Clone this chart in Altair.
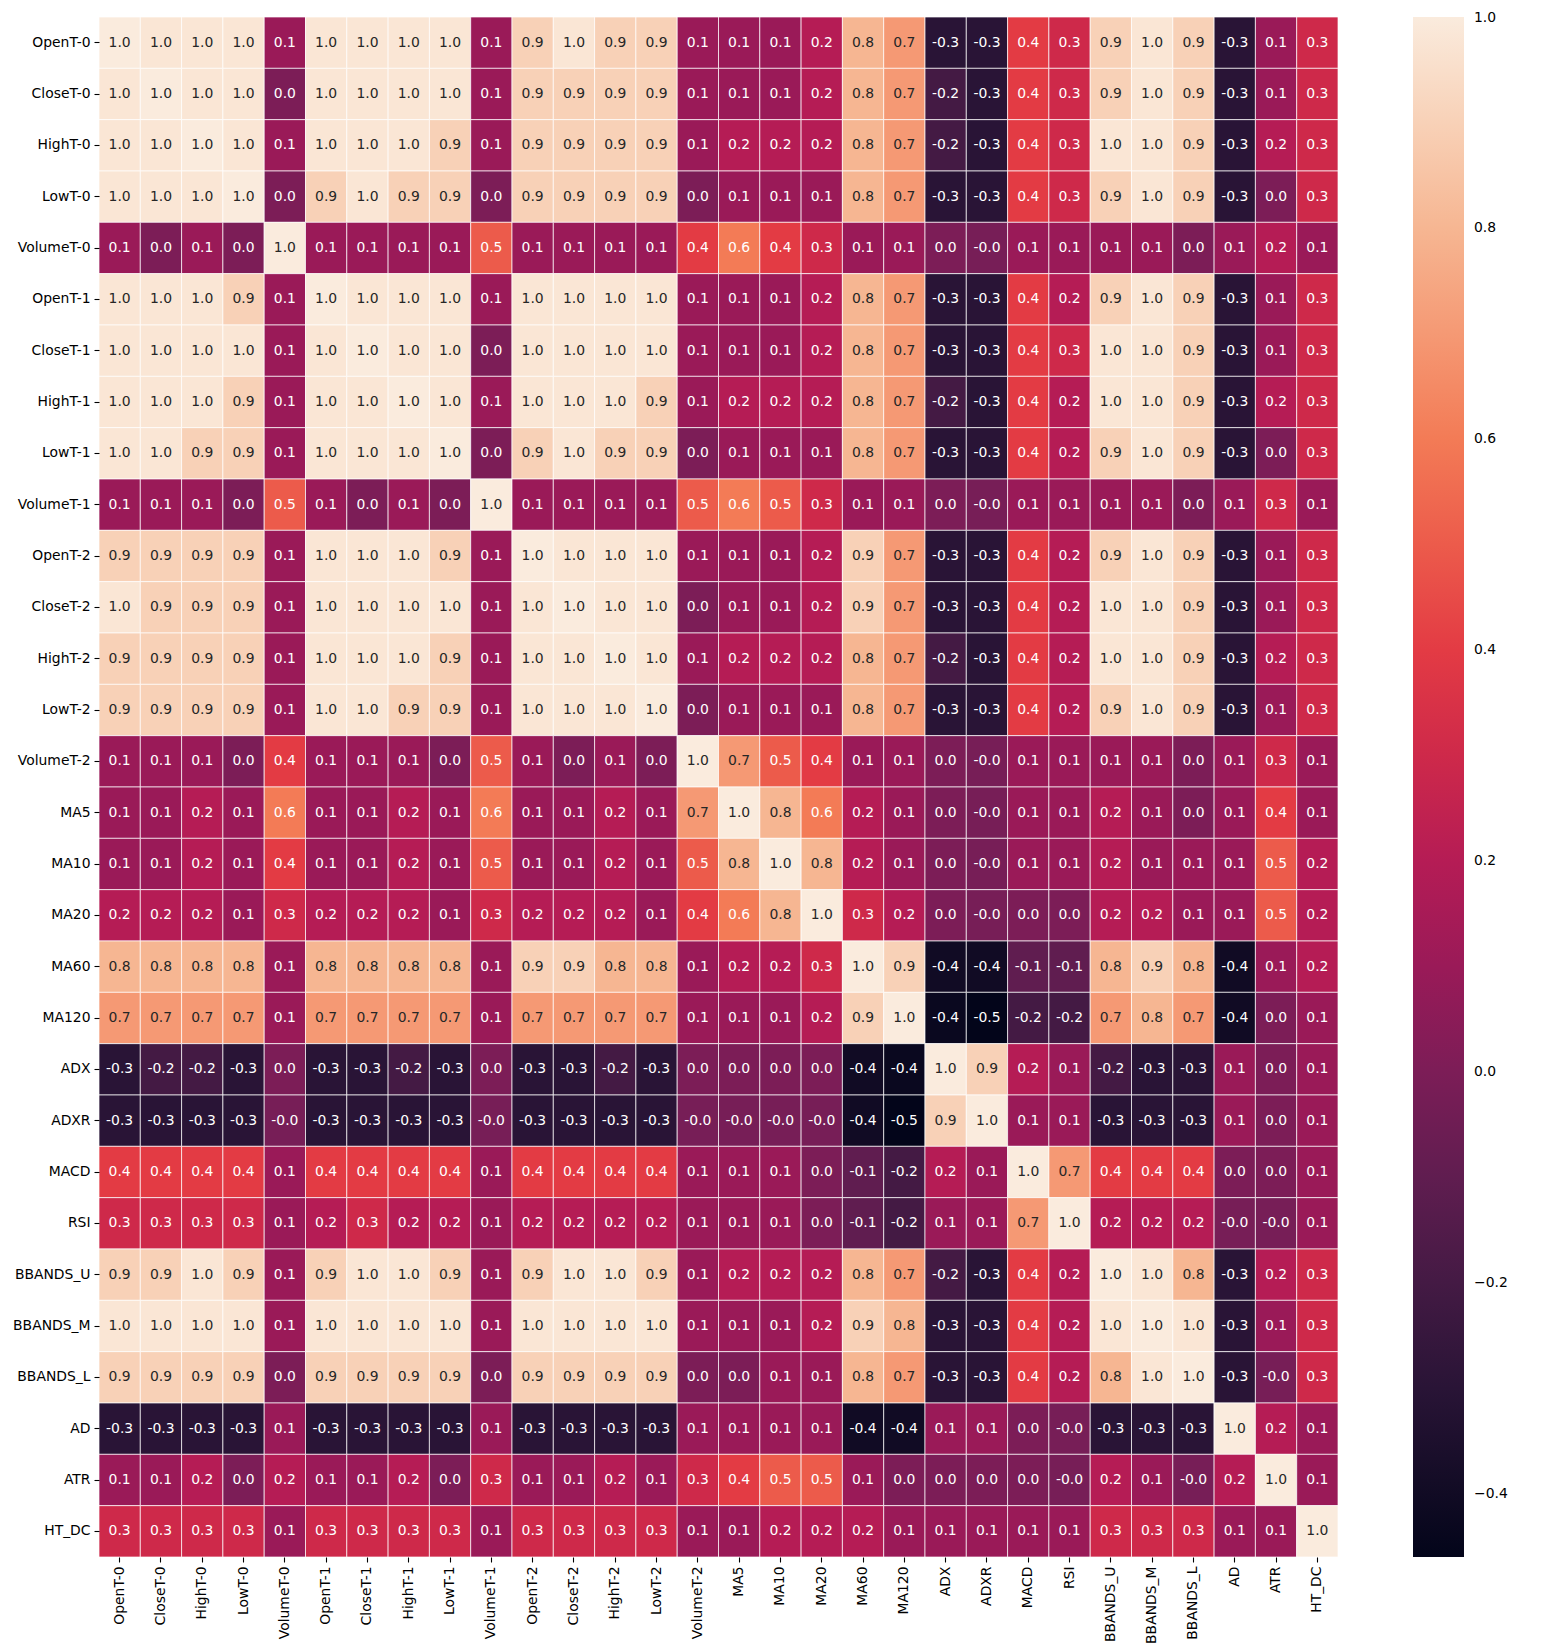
import altair as alt
import pandas as pd

names = ["OpenT-0", "CloseT-0", "HighT-0", "LowT-0", "VolumeT-0",
         "OpenT-1", "CloseT-1", "HighT-1", "LowT-1", "VolumeT-1",
         "OpenT-2", "CloseT-2", "HighT-2", "LowT-2", "VolumeT-2",
         "MA5", "MA10", "MA20", "MA60", "MA120", "ADX", "ADXR", "MACD", "RSI",
         "BBANDS_U", "BBANDS_M", "BBANDS_L", "AD", "ATR", "HT_DC"]

r_open0 = [1.0, .98, .98, .98, .1, .98, .98, .98, .98, .1, .9, .98, .9, .9, .1, .1, .1, .2, .8, .7, -.3, -.3, .4, .3, .9, .98, .9, -.3, .1, .3]
r_close0 = [.98, 1.0, .98, .98, 0.0, .98, .98, .98, .98, .1, .9, .9, .9, .9, .1, .1, .1, .2, .8, .7, -.2, -.3, .4, .3, .9, .98, .9, -.3, .1, .3]
r_high0 = [.98, .98, 1.0, .98, .1, .98, .98, .98, .9, .1, .9, .9, .9, .9, .1, .2, .2, .2, .8, .7, -.2, -.3, .4, .3, .98, .98, .9, -.3, .2, .3]
r_low0 = [.98, .98, .98, 1.0, 0.0, .9, .98, .9, .9, 0.0, .9, .9, .9, .9, 0.0, .1, .1, .1, .8, .7, -.3, -.3, .4, .3, .9, .98, .9, -.3, 0.0, .3]
r_vol0 = [.1, 0.0, .1, 0.0, 1.0, .1, .1, .1, .1, .5, .1, .1, .1, .1, .4, .6, .4, .3, .1, .1, 0.0, -.02, .1, .1, .1, .1, 0.0, .1, .2, .1]
r_open1 = [.98, .98, .98, .9, .1, 1.0, .98, .98, .98, .1, .98, .98, .98, .98, .1, .1, .1, .2, .8, .7, -.3, -.3, .4, .2, .9, .98, .9, -.3, .1, .3]
r_close1 = [.98, .98, .98, .98, .1, .98, 1.0, .98, .98, 0.0, .98, .98, .98, .98, .1, .1, .1, .2, .8, .7, -.3, -.3, .4, .3, .98, .98, .9, -.3, .1, .3]
r_high1 = [.98, .98, .98, .9, .1, .98, .98, 1.0, .98, .1, .98, .98, .98, .9, .1, .2, .2, .2, .8, .7, -.2, -.3, .4, .2, .98, .98, .9, -.3, .2, .3]
r_low1 = [.98, .98, .9, .9, .1, .98, .98, .98, 1.0, 0.0, .9, .98, .9, .9, 0.0, .1, .1, .1, .8, .7, -.3, -.3, .4, .2, .9, .98, .9, -.3, 0.0, .3]
r_vol1 = [.1, .1, .1, 0.0, .5, .1, 0.0, .1, 0.0, 1.0, .1, .1, .1, .1, .5, .6, .5, .3, .1, .1, 0.0, -.02, .1, .1, .1, .1, 0.0, .1, .3, .1]
r_open2 = [.9, .9, .9, .9, .1, .98, .98, .98, .9, .1, 1.0, .98, .98, .98, .1, .1, .1, .2, .9, .7, -.3, -.3, .4, .2, .9, .98, .9, -.3, .1, .3]
r_close2 = [.98, .9, .9, .9, .1, .98, .98, .98, .98, .1, .98, 1.0, .98, .98, 0.0, .1, .1, .2, .9, .7, -.3, -.3, .4, .2, .98, .98, .9, -.3, .1, .3]
r_high2 = [.9, .9, .9, .9, .1, .98, .98, .98, .9, .1, .98, .98, 1.0, .98, .1, .2, .2, .2, .8, .7, -.2, -.3, .4, .2, .98, .98, .9, -.3, .2, .3]
r_low2 = [.9, .9, .9, .9, .1, .98, .98, .9, .9, .1, .98, .98, .98, 1.0, 0.0, .1, .1, .1, .8, .7, -.3, -.3, .4, .2, .9, .98, .9, -.3, .1, .3]
r_vol2 = [.1, .1, .1, 0.0, .4, .1, .1, .1, 0.0, .5, .1, 0.0, .1, 0.0, 1.0, .7, .5, .4, .1, .1, 0.0, -.02, .1, .1, .1, .1, 0.0, .1, .3, .1]
r_ma5 = [.1, .1, .2, .1, .6, .1, .1, .2, .1, .6, .1, .1, .2, .1, .7, 1.0, .8, .6, .2, .1, 0.0, -.02, .1, .1, .2, .1, 0.0, .1, .4, .1]
r_ma10 = [.1, .1, .2, .1, .4, .1, .1, .2, .1, .5, .1, .1, .2, .1, .5, .8, 1.0, .8, .2, .1, 0.0, -.02, .1, .1, .2, .1, .1, .1, .5, .2]
r_ma20 = [.2, .2, .2, .1, .3, .2, .2, .2, .1, .3, .2, .2, .2, .1, .4, .6, .8, 1.0, .3, .2, 0.0, -.02, 0.0, 0.0, .2, .2, .1, .1, .5, .2]
r_ma60 = [.8, .8, .8, .8, .1, .8, .8, .8, .8, .1, .9, .9, .8, .8, .1, .2, .2, .3, 1.0, .9, -.4, -.4, -.1, -.1, .8, .9, .8, -.4, .1, .2]
r_ma120 = [.7, .7, .7, .7, .1, .7, .7, .7, .7, .1, .7, .7, .7, .7, .1, .1, .1, .2, .9, 1.0, -.43, -.46, -.2, -.2, .7, .8, .7, -.4, 0.0, .1]
r_adx = [-.3, -.2, -.2, -.3, 0.0, -.3, -.3, -.2, -.3, 0.0, -.3, -.3, -.2, -.3, 0.0, 0.0, 0.0, 0.0, -.4, -.43, 1.0, .9, .2, .1, -.2, -.3, -.3, .1, 0.0, .1]
r_adxr = [-.3, -.3, -.3, -.3, -.02, -.3, -.3, -.3, -.3, -.02, -.3, -.3, -.3, -.3, -.02, -.02, -.02, -.02, -.4, -.46, .9, 1.0, .1, .1, -.3, -.3, -.3, .1, 0.0, .1]
r_macd = [.4, .4, .4, .4, .1, .4, .4, .4, .4, .1, .4, .4, .4, .4, .1, .1, .1, 0.0, -.1, -.2, .2, .1, 1.0, .7, .4, .4, .4, 0.0, 0.0, .1]
r_rsi = [.3, .3, .3, .3, .1, .2, .3, .2, .2, .1, .2, .2, .2, .2, .1, .1, .1, 0.0, -.1, -.2, .1, .1, .7, 1.0, .2, .2, .2, -.02, -.02, .1]
r_bbu = [.9, .9, .98, .9, .1, .9, .98, .98, .9, .1, .9, .98, .98, .9, .1, .2, .2, .2, .8, .7, -.2, -.3, .4, .2, 1.0, .98, .8, -.3, .2, .3]
r_bbm = [.98, .98, .98, .98, .1, .98, .98, .98, .98, .1, .98, .98, .98, .98, .1, .1, .1, .2, .9, .8, -.3, -.3, .4, .2, .98, 1.0, .98, -.3, .1, .3]
r_bbl = [.9, .9, .9, .9, 0.0, .9, .9, .9, .9, 0.0, .9, .9, .9, .9, 0.0, 0.0, .1, .1, .8, .7, -.3, -.3, .4, .2, .8, .98, 1.0, -.3, -.02, .3]
r_ad = [-.3, -.3, -.3, -.3, .1, -.3, -.3, -.3, -.3, .1, -.3, -.3, -.3, -.3, .1, .1, .1, .1, -.4, -.4, .1, .1, 0.0, -.02, -.3, -.3, -.3, 1.0, .2, .1]
r_atr = [.1, .1, .2, 0.0, .2, .1, .1, .2, 0.0, .3, .1, .1, .2, .1, .3, .4, .5, .5, .1, 0.0, 0.0, 0.0, 0.0, -.02, .2, .1, -.02, .2, 1.0, .1]
r_htdc = [.3, .3, .3, .3, .1, .3, .3, .3, .3, .1, .3, .3, .3, .3, .1, .1, .2, .2, .2, .1, .1, .1, .1, .1, .3, .3, .3, .1, .1, 1.0]

matrix = [r_open0, r_close0, r_high0, r_low0, r_vol0, r_open1, r_close1, r_high1,
          r_low1, r_vol1, r_open2, r_close2, r_high2, r_low2, r_vol2, r_ma5, r_ma10,
          r_ma20, r_ma60, r_ma120, r_adx, r_adxr, r_macd, r_rsi, r_bbu, r_bbm, r_bbl,
          r_ad, r_atr, r_htdc]

legend_ticks = [-0.4, -0.2, 0.0, 0.2, 0.4, 0.6, 0.8, 1.0]

# rocket colormap stops
rocket = ["#03051a", "#35193e", "#701f57", "#ad1759", "#e13342", "#f37651", "#f6b48f", "#faebdd"]
vmin, vmax = -0.46, 1.0005
dom = [vmin + (vmax - vmin) * i / (len(rocket) - 1) for i in range(len(rocket))]

rows = []
for i, rn in enumerate(names):
    for j, cn in enumerate(names):
        v = matrix[i][j]
        rows.append({"row": rn, "col": cn, "v": v, "label": f"{v:.1f}"})
df = pd.DataFrame(rows)

FONT = "DejaVu Sans"
FS = 13.9

base = alt.Chart(df).encode(
    x=alt.X("col:N", sort=names, title=None,
            scale=alt.Scale(paddingInner=0, paddingOuter=0),
            axis=alt.Axis(labelAngle=270, labelFontSize=FS, labelFont=FONT, labelColor="black",
                          tickColor="black", tickSize=5, tickWidth=1.1, labelPadding=4,
                          domain=False, grid=False)),
    y=alt.Y("row:N", sort=names, title=None,
            scale=alt.Scale(paddingInner=0, paddingOuter=0),
            axis=alt.Axis(labelFontSize=FS, labelFont=FONT, labelColor="black",
                          tickColor="black", tickSize=5, tickWidth=1.1, labelPadding=4,
                          domain=False, grid=False)),
)

rects = base.mark_rect(stroke="white", strokeWidth=0.7).encode(
    color=alt.Color("v:Q", title=None,
                    scale=alt.Scale(domain=dom, range=rocket, interpolate="rgb", clamp=True),
                    legend=alt.Legend(values=legend_ticks, format=".1f", gradientLength=1540,
                                      gradientThickness=51, offset=75, labelFontSize=FS,
                                      labelFont=FONT, labelColor="black", labelOffset=10,
                                      labelBaseline="middle",
                                      gradientStrokeWidth=0, direction="vertical",
                                      labelOverlap=False))
)

texts = base.mark_text(font=FONT, fontSize=FS, baseline="middle", align="center").encode(
    text="label:N",
    color=alt.condition("datum.v >= 0.65", alt.value("#262626"), alt.value("white")),
)

chart = (rects + texts).properties(
    width=1239, height=1540,
    padding={"left": 4, "top": 8, "right": 5, "bottom": 5},
).configure_view(stroke=None)

chart.save("out.html", embed_options={"renderer": "svg", "actions": False})
